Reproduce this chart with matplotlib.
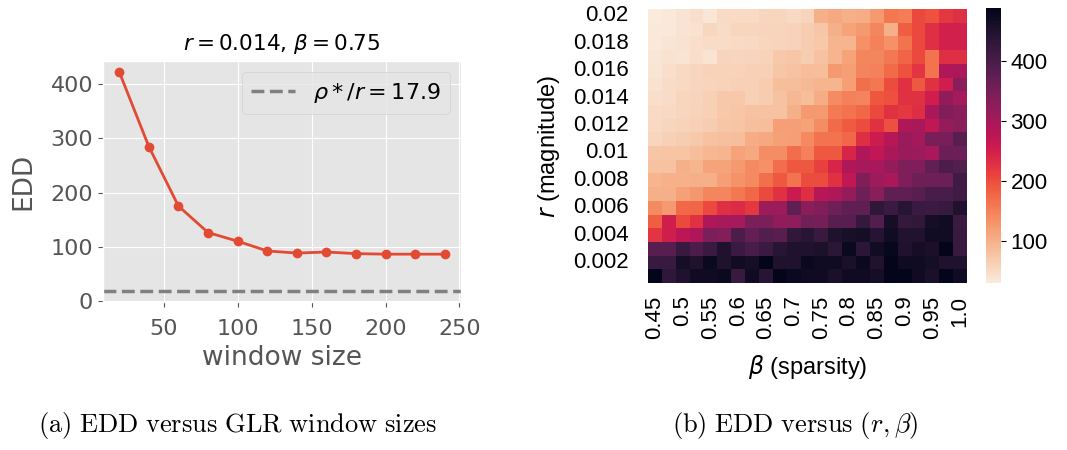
import numpy as np
import matplotlib
matplotlib.use("Agg")
import matplotlib.pyplot as plt
import seaborn as sns

# left panel: EDD vs GLR window size
window = [20, 40, 60, 80, 100, 120, 140, 160, 180, 200, 220, 240]
edd_w = [423, 285, 175, 126, 110, 92, 88, 90, 87, 86, 86, 86]
rho_over_r = 17.9

# right panel: EDD over (r, beta), rows top (r=0.02) to bottom (r=0.001)
betas = [0.45, 0.475, 0.5, 0.525, 0.55, 0.575, 0.6, 0.625, 0.65, 0.675, 0.7, 0.725,
         0.75, 0.775, 0.8, 0.825, 0.85, 0.875, 0.9, 0.925, 0.95, 0.975, 1.0]
rs = [0.02, 0.019, 0.018, 0.017, 0.016, 0.015, 0.014, 0.013, 0.012, 0.011,
      0.01, 0.009, 0.008, 0.007, 0.006, 0.005, 0.004, 0.003, 0.002, 0.001]
edd_grid = [
    [30, 34, 40, 45, 36, 50, 50, 50, 56, 56, 53, 58, 100, 110, 100, 105, 125, 160, 155, 205, 195, 220, 230],
    [33, 34, 40, 42, 55, 48, 56, 56, 58, 58, 60, 66, 75, 100, 115, 125, 145, 100, 185, 205, 230, 250, 250],
    [34, 38, 42, 45, 48, 48, 50, 53, 56, 58, 60, 66, 72, 95, 95, 135, 150, 135, 165, 205, 230, 250, 250],
    [36, 42, 40, 45, 40, 58, 56, 58, 60, 72, 75, 66, 80, 95, 115, 145, 145, 160, 180, 205, 165, 230, 230],
    [38, 46, 53, 56, 60, 60, 60, 63, 63, 75, 80, 85, 85, 125, 120, 148, 150, 172, 195, 225, 165, 290, 295],
    [42, 48, 53, 56, 58, 60, 63, 63, 68, 85, 85, 90, 95, 95, 120, 168, 160, 200, 228, 190, 228, 255, 330],
    [46, 48, 56, 58, 63, 72, 72, 63, 68, 80, 92, 85, 105, 140, 150, 148, 192, 198, 228, 228, 252, 320, 300],
    [50, 53, 56, 60, 63, 72, 75, 80, 80, 80, 100, 125, 125, 158, 165, 175, 205, 228, 220, 232, 298, 338, 330],
    [53, 56, 60, 63, 66, 75, 78, 82, 85, 120, 120, 115, 138, 172, 188, 200, 228, 198, 290, 298, 270, 318, 330],
    [56, 63, 66, 72, 80, 82, 85, 105, 110, 118, 120, 142, 165, 165, 175, 232, 258, 282, 312, 302, 348, 348, 382],
    [75, 78, 78, 85, 92, 95, 115, 110, 138, 138, 170, 150, 190, 190, 242, 290, 270, 295, 312, 310, 298, 362, 362],
    [80, 80, 100, 95, 115, 115, 125, 142, 135, 170, 190, 190, 212, 242, 290, 300, 298, 318, 342, 340, 370, 395, 390],
    [95, 98, 98, 100, 100, 120, 132, 142, 168, 190, 165, 200, 200, 228, 270, 338, 310, 295, 340, 360, 360, 362, 410],
    [100, 100, 118, 128, 145, 145, 160, 175, 205, 228, 260, 232, 282, 290, 318, 360, 330, 375, 375, 382, 400, 400, 410],
    [142, 125, 175, 178, 205, 230, 235, 220, 310, 310, 375, 328, 338, 360, 375, 375, 432, 418, 438, 418, 415, 420, 450],
    [185, 252, 205, 228, 290, 300, 300, 345, 345, 320, 325, 355, 352, 382, 382, 425, 388, 462, 425, 428, 462, 468, 418],
    [225, 252, 275, 292, 345, 335, 395, 370, 390, 382, 428, 438, 420, 452, 458, 462, 442, 468, 448, 448, 468, 468, 420],
    [382, 382, 420, 395, 418, 450, 418, 400, 418, 438, 450, 450, 455, 435, 475, 435, 468, 480, 450, 462, 456, 486, 420],
    [420, 420, 462, 450, 475, 450, 468, 462, 486, 450, 450, 476, 470, 470, 456, 475, 448, 486, 470, 470, 462, 450, 450],
    [488, 432, 450, 470, 470, 475, 420, 470, 438, 486, 476, 470, 470, 456, 470, 470, 462, 486, 486, 470, 456, 486, 470],
]

fig = plt.figure(figsize=(10.67, 4.5), dpi=100)

# ---- left: ggplot look
with plt.style.context("ggplot"):
    ax = fig.add_axes([0.0965, 0.329, 0.3355, 0.5356])
    ax.plot(window, edd_w, "-o", color="#E24A33", lw=2, ms=6)
    ax.axhline(rho_over_r, color="gray", ls="--", lw=2.5, label=r"$\rho*/r=17.9$")
    ax.set_xticks([50, 100, 150, 200, 250])
    ax.set_yticks([0, 100, 200, 300, 400])
    ax.tick_params(labelsize=16)
    ax.tick_params(axis="x", pad=9)
    ax.set_xlabel("window size", fontsize=19, labelpad=4)
    ax.set_ylabel("EDD", fontsize=19, labelpad=10)
    ax.set_title(r"$r=0.014$, $\beta=0.75$", fontsize=15.5, color="black", pad=8)
    ax.legend(loc="upper right", fontsize=16)

# ---- right: heatmap
SANS = "Liberation Sans"
hax = fig.add_axes([0.6073, 0.371, 0.299, 0.609])
cax = fig.add_axes([0.924, 0.371, 0.014, 0.611])
sns.heatmap(np.array(edd_grid), ax=hax, cbar_ax=cax, cmap="rocket_r")
hax.set_xticks(np.arange(0, len(betas), 2) + 0.5)
hax.set_xticklabels([str(b) for b in betas[::2]], rotation=90, fontsize=16, family=SANS)
hax.set_yticks(np.arange(0, len(rs), 2) + 0.5)
hax.set_yticklabels([str(r) for r in rs[::2]], rotation=0, fontsize=16, family=SANS)
hax.tick_params(axis="y", length=0, pad=14)
hax.tick_params(axis="x", length=0, pad=9)
hax.set_xlabel(r"$\beta$ (sparsity)", fontsize=17, family=SANS, labelpad=10)
hax.set_ylabel(r"$r$ (magnitude)", fontsize=17, family=SANS, labelpad=8)
cax.set_yticks([100, 200, 300, 400])
cax.set_yticklabels(["100", "200", "300", "400"], fontsize=16, family=SANS)

# ---- captions
fig.text(0.223, 0.04, r"$\mathrm{(a)\ EDD\ versus\ GLR\ window\ sizes}$",
         ha="center", fontsize=19, math_fontfamily="cm")
fig.text(0.745, 0.04, r"$\mathrm{(b)\ EDD\ versus\ }(r,\beta)$",
         ha="center", fontsize=19, math_fontfamily="cm")

fig.savefig("out.png", dpi=100, facecolor="white")
